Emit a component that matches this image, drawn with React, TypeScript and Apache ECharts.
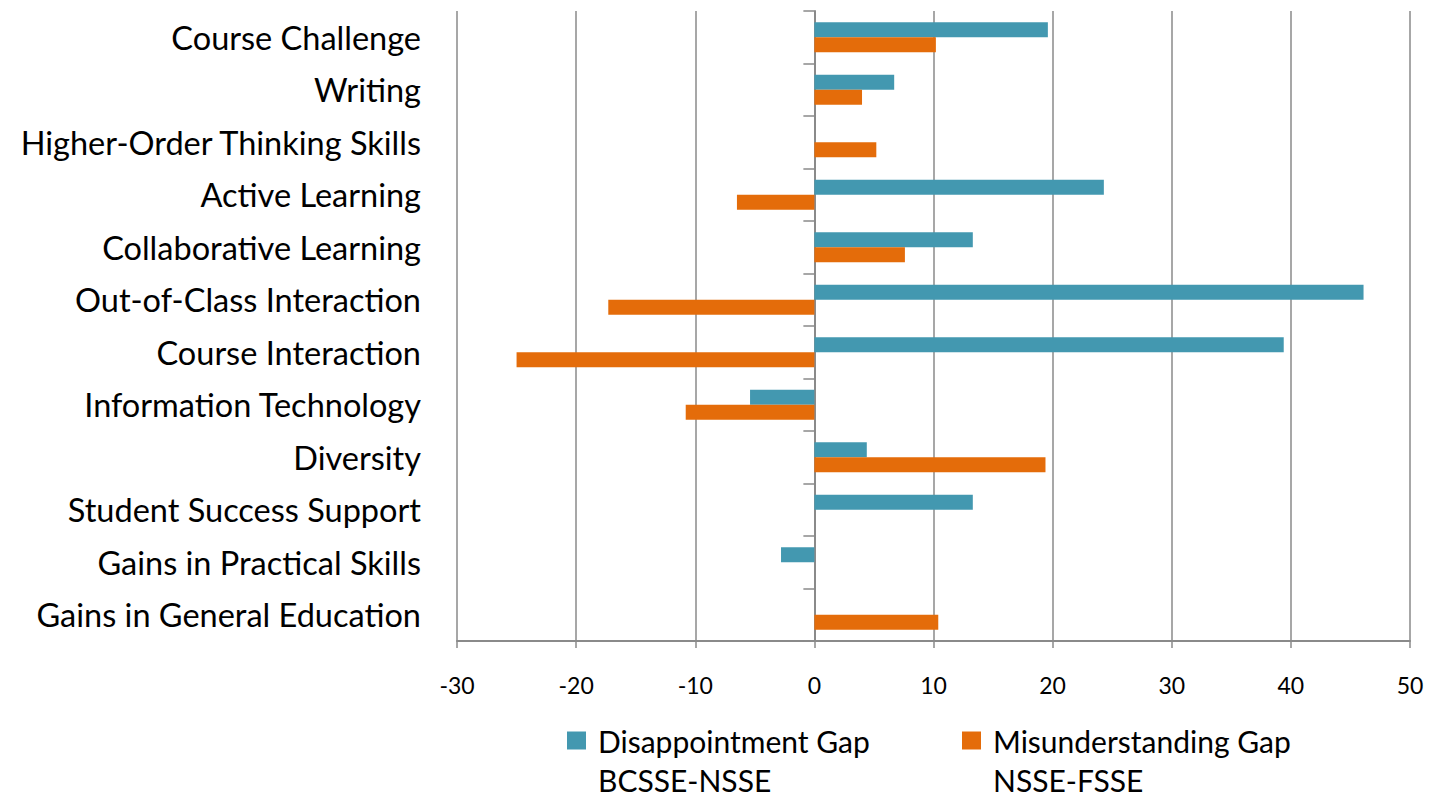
import React, { useEffect, useRef } from "react";
import * as echarts from "echarts";

const categories = [
  "Course Challenge",
  "Writing",
  "Higher-Order Thinking Skills",
  "Active Learning",
  "Collaborative Learning",
  "Out-of-Class Interaction",
  "Course Interaction",
  "Information Technology",
  "Diversity",
  "Student Success Support",
  "Gains in Practical Skills",
  "Gains in General Education",
];

const disappointmentName = "Disappointment Gap\nBCSSE-NSSE";
const misunderstandingName = "Misunderstanding Gap\nNSSE-FSSE";

const disappointment = [19.6, 6.7, 0, 24.3, 13.3, 46.1, 39.4, -5.4, 4.4, 13.3, -2.8, 0];
const misunderstanding = [10.2, 4.0, 5.2, -6.5, 7.6, -17.3, -25.0, -10.8, 19.4, 0, 0, 10.4];

const xMin = -30;
const xMax = 50;
const xInterval = 10;

const TEAL = "#4398B0";
const ORANGE = "#E46C0A";
const GRAY = "#8A8A8A";
const FONT = "Lato";

export default function App() {
  const ref = useRef<HTMLDivElement>(null);

  useEffect(() => {
    document.body.style.margin = "0";
    const chart = echarts.init(ref.current as HTMLDivElement, null, { renderer: "svg" });
    const legendBase = {
      orient: "horizontal",
      top: 682,
      padding: 0,
      itemWidth: 19,
      itemHeight: 18,
      icon: "rect",
      selectedMode: false,
      formatter: (name: string) => " \n" + name,
      textStyle: {
        fontFamily: FONT,
        fontSize: 30,
        color: "#000",
        lineHeight: 39,
        padding: [0, 0, 0, 7],
      },
    };
    chart.setOption({
      animation: false,
      backgroundColor: "#fff",
      grid: { left: 457, right: 19, top: 11, bottom: 156, containLabel: false },
      legend: [
        { ...legendBase, left: 567, data: [disappointmentName] },
        { ...legendBase, left: 962, data: [misunderstandingName] },
      ],
      xAxis: {
        type: "value",
        min: xMin,
        max: xMax,
        interval: xInterval,
        axisLine: { show: true, onZero: false, lineStyle: { color: GRAY, width: 2 } },
        axisTick: { show: true, length: 7, lineStyle: { color: GRAY, width: 1.5 } },
        splitLine: { show: true, lineStyle: { color: GRAY, width: 1.5 } },
        axisLabel: { fontFamily: FONT, fontSize: 23, color: "#000", margin: 32 },
      },
      yAxis: {
        type: "category",
        data: categories,
        inverse: true,
        position: "left",
        axisLine: { show: true, onZero: true, lineStyle: { color: GRAY, width: 2 } },
        axisTick: { show: true, length: 11, lineStyle: { color: GRAY, width: 1.5 } },
        splitLine: { show: false },
        axisLabel: { fontFamily: FONT, fontSize: 32.5, color: "#000", margin: 36 },
      },
      series: [
        {
          name: disappointmentName,
          type: "bar",
          data: disappointment,
          barWidth: 15,
          barGap: "0%",
          itemStyle: { color: TEAL },
        },
        {
          name: misunderstandingName,
          type: "bar",
          data: misunderstanding,
          barWidth: 15,
          barGap: "0%",
          itemStyle: { color: ORANGE },
        },
      ],
    });
    return () => chart.dispose();
  }, []);

  return <div ref={ref} style={{ width: 1429, height: 797 }} />;
}
